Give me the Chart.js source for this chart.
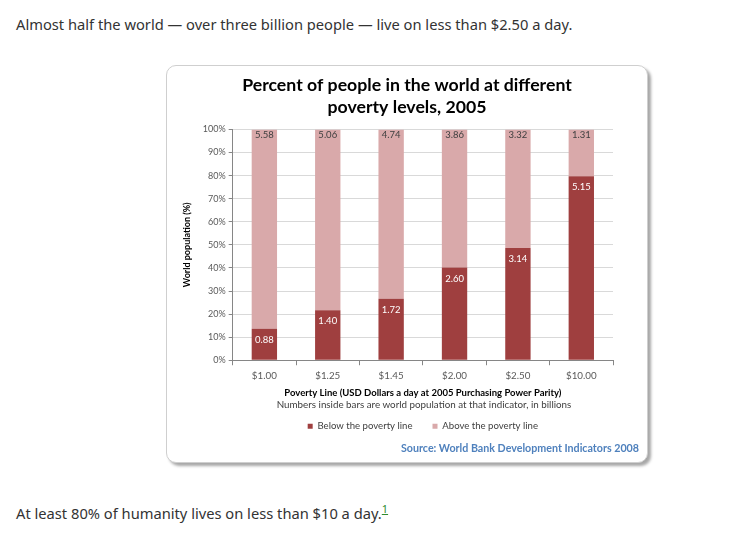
<!DOCTYPE html>
<html>
<head>
<meta charset="utf-8">
<script src="https://cdn.jsdelivr.net/npm/chart.js@4.4.1/dist/chart.umd.min.js"></script>
<style>
    body { margin: 0; background: #fff; font-family: 'Noto Sans', Lato, sans-serif; color: #333; }
    .para { position: absolute; left: 16px; font-size: 14.7px; white-space: nowrap; }
    .para sup a { color: #2e8b2e; font-size: 11px; }
    #box {
        position: absolute; left: 166px; top: 65px; width: 480px; height: 396px;
        border: 1px solid #cfcfcf; border-radius: 10px; background: #fff;
        box-shadow: 3px 3px 3px rgba(0, 0, 0, 0.35);
        font-family: Lato, 'Open Sans', sans-serif;
    }
    #wrap { position: absolute; left: 0; top: 0; width: 480px; height: 396px; }
    .note { position: absolute; font-size: 9.8px; white-space: nowrap; }
</style>
</head>
<body>
<div class="para" style="top:14px">Almost half the world &mdash; over three billion people &mdash; live on less than $2.50 a day.</div>

<div id="box">
    <div id="wrap"><canvas id="povertyChart"></canvas></div>
    <div class="note" style="left:0; width:514px; text-align:center; top:332px; color:#404040">Numbers inside bars are world population at that indicator, in billions</div>
    <div class="note" style="right:8px; top:375px; color:#4f81bd; font-weight:bold; font-size:10.7px">Source: World Bank Development Indicators 2008</div>
</div>

<div class="para" style="top:500px">At least 80% of humanity lives on less than $10 a day.<sup><a href="#">1</a></sup></div>

<script>
    'use strict';

    // poverty lines (USD / day, 2005 PPP)
    var povertyLines = ['$1.00', '$1.25', '$1.45', '$2.00', '$2.50', '$10.00'];

    // share of world population (%)
    var belowPct = [13.6, 21.7, 26.6, 40.2, 48.6, 79.7];
    var abovePct = [86.4, 78.3, 73.4, 59.8, 51.4, 20.3];

    // population in billions, printed inside the bars
    var belowBillions = ['0.88', '1.40', '1.72', '2.60', '3.14', '5.15'];
    var aboveBillions = ['5.58', '5.06', '4.74', '3.86', '3.32', '1.31'];

    var yTicks = [0, 10, 20, 30, 40, 50, 60, 70, 80, 90, 100];

    var fontFamily = 'Lato, "Open Sans", sans-serif';

    const barLabels = {
        id: 'barLabels',
        afterDatasetsDraw: function (chart) {
            var ctx = chart.ctx;
            var texts = [belowBillions, aboveBillions];
            var colors = ['#ffffff', '#404040'];
            var offsets = [11, 5];
            ctx.save();
            ctx.font = '9.5px ' + fontFamily;
            ctx.textAlign = 'center';
            ctx.textBaseline = 'middle';
            chart.data.datasets.forEach(function (ds, i) {
                chart.getDatasetMeta(i).data.forEach(function (bar, j) {
                    ctx.fillStyle = colors[i];
                    ctx.fillText(texts[i][j], bar.x, bar.y + offsets[i]);
                });
            });
            ctx.restore();
        },
    };

    new Chart(document.getElementById('povertyChart'), {
        type: 'bar',
        data: {
            labels: povertyLines,
            datasets: [
                {
                    label: 'Below the poverty line',
                    data: belowPct,
                    backgroundColor: '#9f3f3f',
                    barPercentage: 0.4,
                    categoryPercentage: 1,
                },
                {
                    label: 'Above the poverty line',
                    data: abovePct,
                    backgroundColor: '#d9a9aa',
                    barPercentage: 0.4,
                    categoryPercentage: 1,
                },
            ],
        },
        options: {
            responsive: true,
            maintainAspectRatio: false,
            animation: false,
            layout: {
                padding: { left: 15, right: 15, top: 9, bottom: 21 },
            },
            scales: {
                x: {
                    stacked: true,
                    offset: true,
                    grid: {
                        offset: true,
                        drawOnChartArea: false,
                        drawTicks: true,
                        tickLength: 5,
                        color: '#868686',
                    },
                    border: { color: '#868686' },
                    ticks: {
                        color: '#595959',
                        font: { family: fontFamily, size: 9.8 },
                        padding: 5,
                    },
                    title: {
                        display: true,
                        text: 'Poverty Line (USD Dollars a day at 2005 Purchasing Power Parity)',
                        color: '#000',
                        font: { family: fontFamily, size: 9.5, weight: 'bold' },
                        padding: { top: 0, bottom: 3 },
                    },
                },
                y: {
                    stacked: true,
                    min: 0,
                    max: 100,
                    afterBuildTicks: function (axis) {
                        axis.ticks = yTicks.map(function (v) { return { value: v }; });
                    },
                    grid: {
                        color: '#d9d9d9',
                        tickColor: '#868686',
                        tickLength: 4,
                    },
                    border: { color: '#868686' },
                    ticks: {
                        color: '#595959',
                        font: { family: fontFamily, size: 9 },
                        padding: 3,
                        callback: function (v) { return v + '%'; },
                    },
                    title: {
                        display: true,
                        text: 'World population (%)',
                        color: '#000',
                        font: { family: fontFamily, size: 9, weight: 'bold' },
                        padding: { top: 0, bottom: 7 },
                    },
                },
                // empty right-hand gutter so the title stays centred in the box
                gutter: {
                    type: 'linear',
                    position: 'right',
                    grid: { display: false },
                    border: { display: false },
                    ticks: { display: false },
                    afterFit: function (axis) {
                        axis.width = 19;
                    },
                },
            },
            plugins: {
                title: {
                    display: true,
                    text: ['Percent of people in the world at different', 'poverty levels, 2005'],
                    color: '#000',
                    font: { family: fontFamily, size: 17.7, weight: 'bold', lineHeight: 1.2 },
                    padding: { top: 0, bottom: 12 },
                },
                legend: {
                    position: 'bottom',
                    fullSize: false,
                    labels: {
                        boxWidth: 5,
                        boxHeight: 5,
                        color: '#404040',
                        font: { family: fontFamily, size: 9.6 },
                        padding: 20,
                    },
                },
                tooltip: { enabled: false },
            },
        },
        plugins: [barLabels],
    });
</script>
</body>
</html>
